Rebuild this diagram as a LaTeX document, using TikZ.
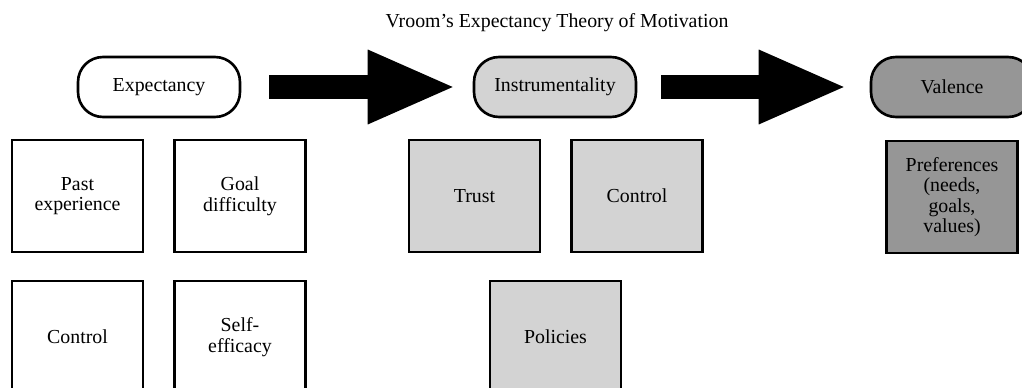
\documentclass[tikz,border=0pt]{standalone}
\usepackage{fontspec}
\setmainfont{Liberation Serif}
\usetikzlibrary{arrows.meta}

\definecolor{lightgrey}{HTML}{D3D3D3}
\definecolor{midgrey}{HTML}{969696}
\newcommand{\vroomfont}{\fontsize{11.3}{11.7}\selectfont}

\tikzset{
  factor/.style={draw, line width=1.5pt, rounded corners=0.5cm, minimum width=3.24cm, minimum height=1.2cm, inner sep=0pt, font=\vroomfont},
  item/.style={draw, line width=1.5pt, minimum width=2.62cm, minimum height=2.24cm, inner sep=0pt, align=center, font=\vroomfont},
  bigarrow/.style={line width=0.48cm, -{Triangle[length=1.7cm, width=1.5cm, line width=0pt]}}
}

\begin{document}
\begin{tikzpicture}[x=0.02cm, y=-0.02cm]
  \useasboundingbox (0,0) rectangle (1022,388);
  \clip (0,0) rectangle (1022,388);

  	\node (title) at (557, 23) [font=\vroomfont] {Vroom's Expectancy Theory of Motivation};

  	\node (exp) at (159, 87) [factor, fill=white] {Expectancy};
  	\node (inst) at (555, 87) [factor, fill=lightgrey] {Instrumentality};
  	\node (val) at (952, 87) [factor, fill=midgrey] {Valence};


  \node (past) at (77.5, 196) [item] {Past\\experience};
  \node (goal) at (240, 196) [item] {Goal\\difficulty};
  \node (ctrla) at (77.5, 337) [item] {Control};
  \node (self) at (240, 337) [item] {Self-\\efficacy};

  \node (trust) at (474.5, 196) [item, fill=lightgrey] {Trust};
  \node (ctrlb) at (637, 196) [item, fill=lightgrey] {Control};
  \node (policies) at (555.5, 337) [item, fill=lightgrey] {Policies};

  \node (pref) at (952, 197) [item, fill=midgrey] {Preferences\\(needs,\\goals,\\values)};


  	\draw[bigarrow, shorten <=0.56cm, shorten >=0.4cm] (exp.east) -- (inst.west);
  	\draw[bigarrow, shorten <=0.48cm, shorten >=0.52cm] (inst.east) -- (val.west);
  \end{tikzpicture}
\end{document}
